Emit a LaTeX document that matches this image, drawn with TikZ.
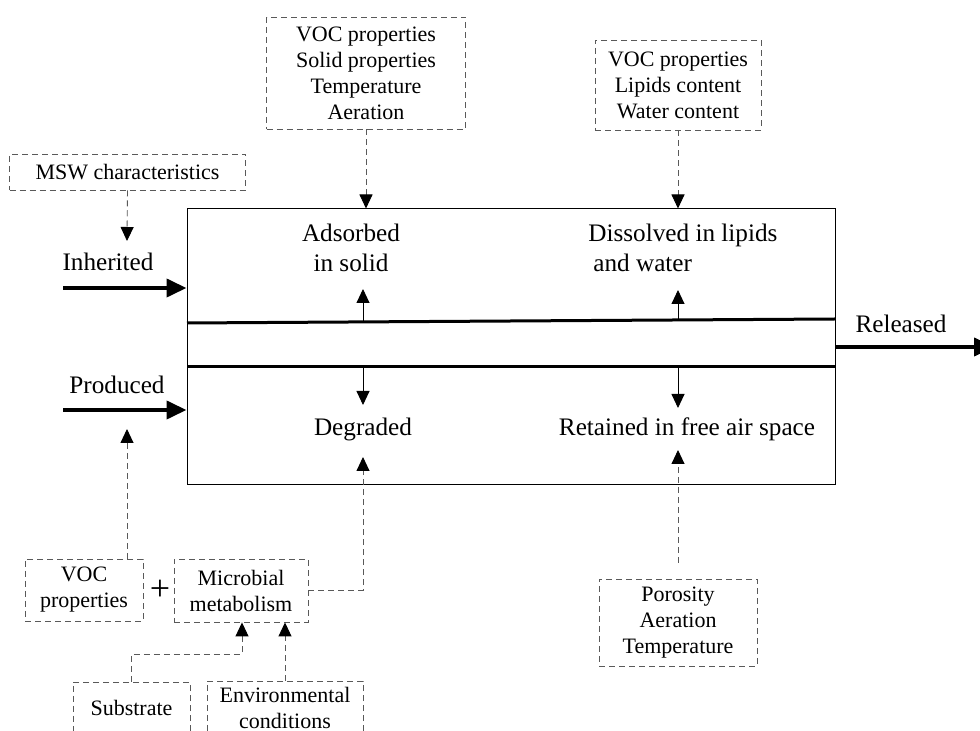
\documentclass[tikz,border=0pt]{standalone}
\usepackage{fontspec}
\setmainfont{Liberation Serif}
\usetikzlibrary{positioning}
\usetikzlibrary{arrows.meta}
\tikzset{factor/.style={draw=black!65, dash pattern=on 3pt off 2pt, line width=0.45pt,
align=center, inner sep=2pt},
label/.style={font=\fontsize{12.6}{15}\selectfont},
flow/.style={-{Triangle[length=7pt, width=6.5pt, color=black]}, line width=0.45pt},
dflow/.style={flow, draw=black!65, dash pattern=on 3pt off 2pt},
bigflow/.style={-{Triangle[length=10pt, width=9pt]}, line width=2pt},
wall/.style={line width=1.5pt}}

\begin{document}
\begin{tikzpicture}[x=0.5pt, y=-0.5pt, font=\fontsize{11}{13}\selectfont]
\useasboundingbox (0,0) rectangle (980,731);
\clip (0,0) rectangle (980,731);

\node[draw, line width=0.5pt, minimum width=324pt, minimum height=138pt, inner sep=0] (tank) at (511,347) {};
\draw[wall] (187,323) -- (835,319);
\draw[wall] (187,367) -- (835,367);

\node[label, anchor=base] (inh) at (108,271) {Inherited};
\node[label, anchor=base] (prod) at (117,394) {Produced};
\node[label, anchor=base] (rel) at (901,333) {Released};
\node[label, align=center] (ads) at (351,248) {Adsorbed\\in solid};
\node[label, align=left, anchor=west, inner sep=0] (dis) at (588,248) {Dissolved in lipids\\\hspace*{2.5pt}and water};
\node[label, anchor=base] (deg) at (363,436) {Degraded};
\node[label, anchor=base] (ret) at (687,436) {Retained in free air space};

\node[factor, minimum width=118pt, minimum height=18pt] (msw) at (127.5,172) {MSW characteristics};
\node[factor, minimum width=99.5pt, minimum height=56pt] (solidf) at (366,73) {VOC properties\\Solid properties\\Temperature\\Aeration};
\node[factor, minimum width=83pt, minimum height=45pt] (lipidf) at (678,85) {VOC properties\\Lipids content\\Water content};
\node[factor, minimum width=79pt, minimum height=43.5pt] (airf) at (678,622.5) {Porosity\\Aeration\\Temperature};
\node[factor, minimum width=59pt, minimum height=31pt] (vocf) at (84,590) {VOC\\properties};
\node[font=\fontsize{18}{18}\selectfont, inner sep=0] (plus) [right=3pt of vocf] {+};
\node[factor, minimum width=67pt, minimum height=31.5pt] (microf) at (241,590.5) {Microbial\\metabolism};
\node[factor, minimum width=58.5pt, minimum height=26pt] (subf) at (131.5,708) {Substrate};
\node[factor, minimum width=78pt, minimum height=27pt] (envf) at (285,708) {Environmental\\conditions};

\coordinate (inhs) at (63,288);
\coordinate (prods) at (63,410);
\coordinate (relt) at (994,347);
\draw[bigflow] (inhs) -- (inhs -| tank.west);
\draw[bigflow] (prods) -- (prods -| tank.west);
\draw[bigflow] (tank.east) -- (relt);

\coordinate (up1) at (363,322);
\coordinate (up1t) at (363,289);
\coordinate (up2) at (678,319);
\coordinate (up2t) at (678,290);
\coordinate (dn1) at (363,367);
\coordinate (dn1t) at (363,405);
\coordinate (dn2) at (678,367);
\coordinate (dn2t) at (678,408);
\draw[flow] (up1) -- (up1t);
\draw[flow] (up2) -- (up2t);
\draw[flow] (dn1) -- (dn1t);
\draw[flow] (dn2) -- (dn2t);

\coordinate (mswt) at (127,241);
\coordinate (vocft) at (127,429);
\coordinate (degt) at (363,457);
\coordinate (rett) at (678,450);
\coordinate (subm) at (242,654);
\draw[dflow] (msw.south) -- (mswt);
\draw[dflow] (solidf.south) -- (solidf.south |- tank.north);
\draw[dflow] (lipidf.south) -- (lipidf.south |- tank.north);
\draw[dflow] (vocf.north -| vocft) -- (vocft);
\draw[dflow] (microf.east) -| (degt);
\draw[dflow, shorten <=8pt] (airf.north) -- (rett);
\draw[dflow] (subf.north) |- (subm) -- (subm |- microf.south);
\draw[dflow] (envf.north) -- (envf.north |- microf.south);
\end{tikzpicture}
\end{document}
